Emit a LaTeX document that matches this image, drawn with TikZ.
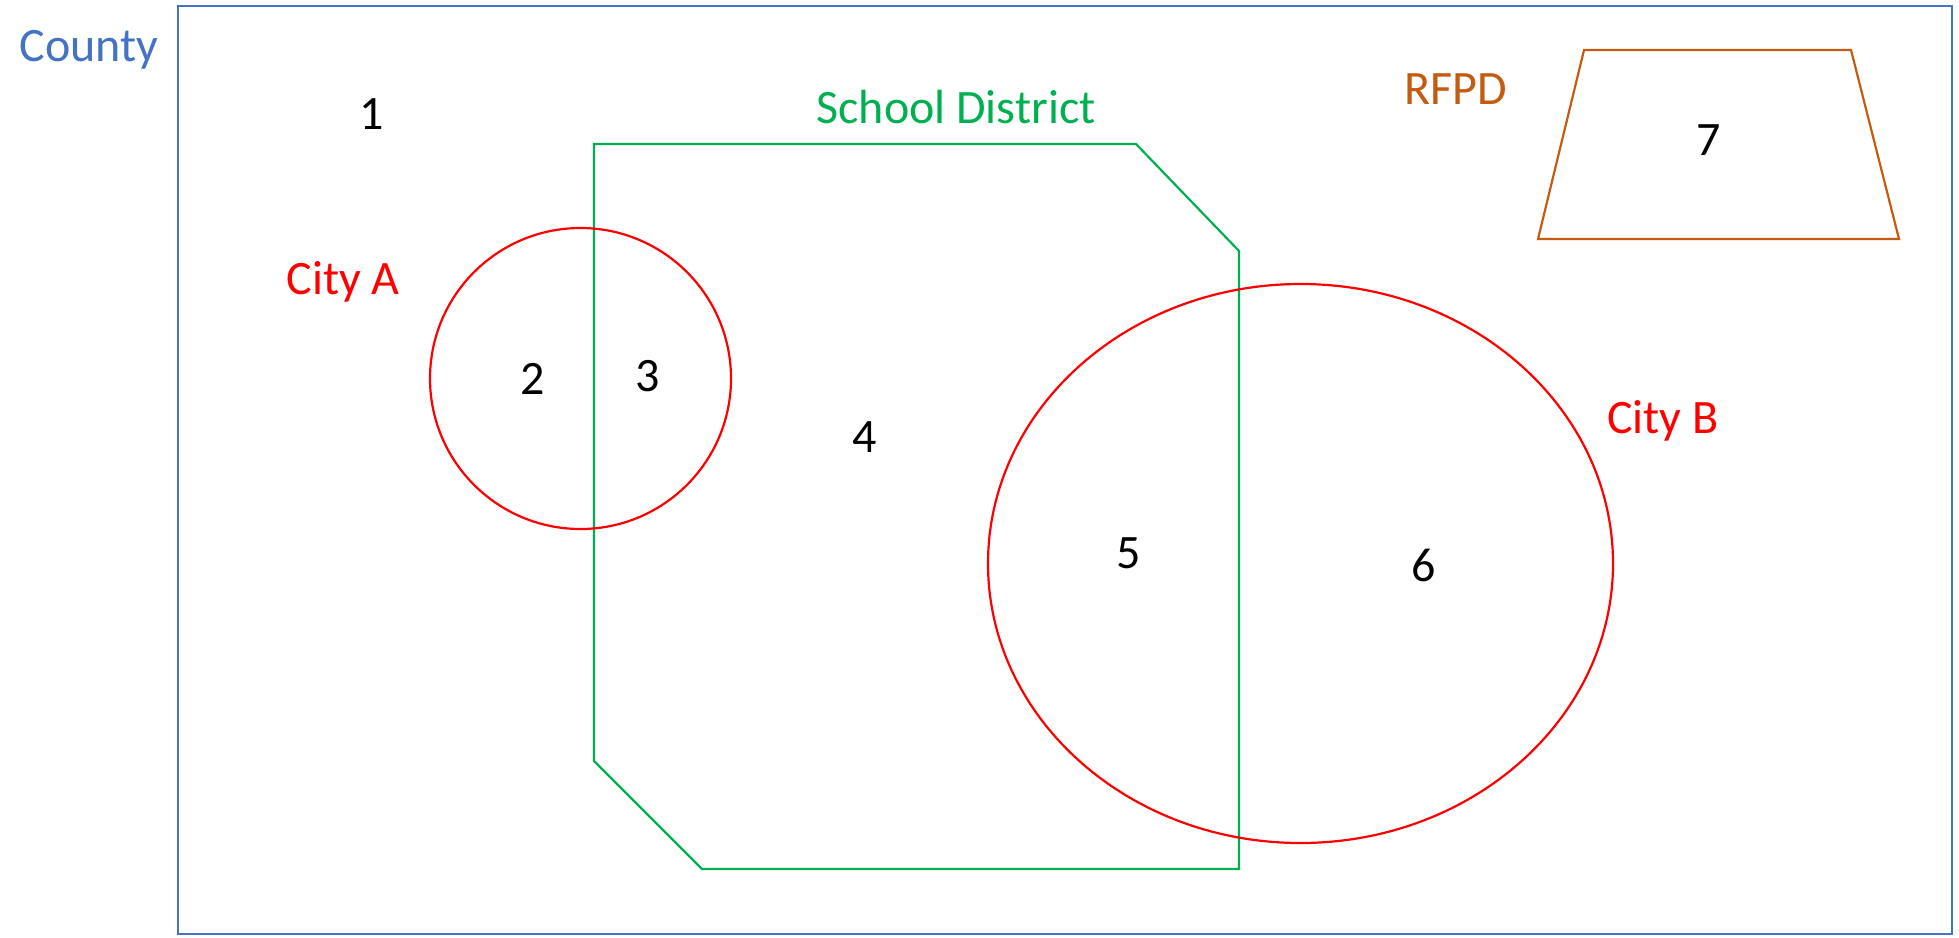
\documentclass[tikz,border=0pt]{standalone}
\usepackage{fontspec}
\setmainfont{Carlito}
\definecolor{countyblue}{HTML}{4472C4}
\definecolor{schoolgreen}{HTML}{00B050}
\definecolor{cityred}{HTML}{FF0000}
\definecolor{rfpdorange}{HTML}{C55A11}
\begin{document}
\begin{tikzpicture}[x=1pt,y=-1pt,
  lbl/.style={inner sep=0pt,anchor=base,font=\fontsize{48}{58}\selectfont},
  region/.style={line width=2.2pt,line join=miter}]
\useasboundingbox (0,0) rectangle (1959,937);
% County
\draw[region,countyblue,line width=2.6pt] (178,6) rectangle (1952,934);
\node[lbl,text=countyblue] (county) at (89,61) {County};
% School district
\draw[region,schoolgreen] (594,144) -- (1136,144) -- (1239,251) -- (1239,869) -- (702,869) -- (594,761) -- cycle;
\node[lbl,text=schoolgreen] (school) at (956,123) {School District};
% City A
\draw[region,cityred] (580.5,378.5) circle[radius=150.5];
\node[lbl,text=cityred] (citya) at (343,294) {City A};
% City B
\draw[region,cityred] (1300.5,563.5) ellipse[x radius=312.5,y radius=279.5];
\node[lbl,text=cityred] (cityb) at (1663,433) {City B};
% RFPD
\draw[region,rfpdorange] (1584,50) -- (1851,50) -- (1899,239) -- (1538,239) -- cycle;
\node[lbl,text=rfpdorange] (rfpd) at (1456,104) {RFPD};
% Numbers
\node[lbl] (n1) at (372,129) {1};
\node[lbl] (n2) at (533,394) {2};
\node[lbl] (n3) at (648,391) {3};
\node[lbl] (n4) at (865,452) {4};
\node[lbl] (n5) at (1129,568) {5};
\node[lbl] (n6) at (1424,581) {6};
\node[lbl] (n7) at (1709,155) {7};
\end{tikzpicture}
\end{document}
